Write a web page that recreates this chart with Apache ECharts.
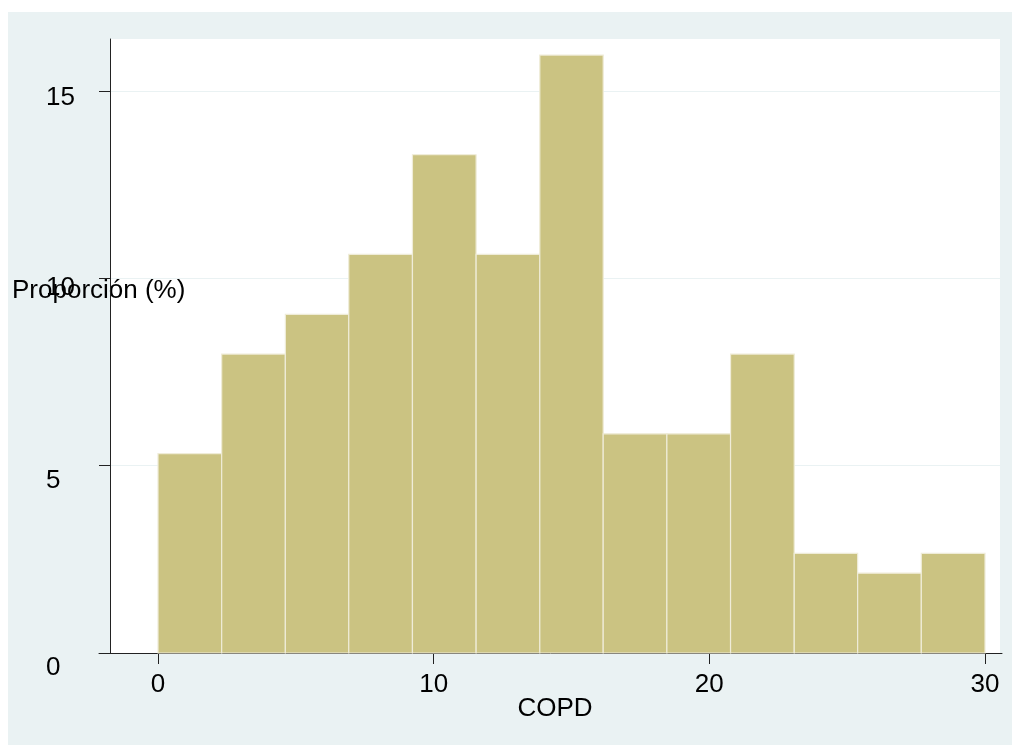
<!DOCTYPE html>
<html>
<head>
<meta charset="utf-8">
<title>COPD</title>
<script src="https://cdn.jsdelivr.net/npm/echarts@6.0.0/dist/echarts.min.js"></script>
<style>
    html, body { margin: 0; padding: 0; background: #fff; }
    #main { width: 1012px; height: 745px; }
</style>
</head>
<body>
<div id="main"></div>
<script>
// bordes de los intervalos del histograma (13 barras de 0 a 30)
var copdBins = [0, 2.31, 4.62, 6.92, 9.23, 11.54, 13.85, 16.15, 18.46, 20.77, 23.08, 25.38, 27.69, 30];
// proporcion (%) de cada barra
var proporcion = [5.32, 7.98, 9.04, 10.64, 13.30, 10.64, 15.96, 5.85, 5.85, 7.98, 2.66, 2.13, 2.66];
// marcas de los ejes
var xTicks = [0, 10, 20, 30];
var yTicks = [0, 5, 10, 15];

var fontFamily = "'Liberation Sans', Arial, sans-serif";
var axisColor = '#222';
var bgColor = '#eaf2f3';

// datos para la serie custom: [desde, hasta, valor]
var histData = [];
for (var i = 0; i < proporcion.length; i++) {
    histData.push([copdBins[i], copdBins[i + 1], proporcion[i]]);
}

// las etiquetas del eje y quedan un poco por debajo de su marca
var yLabelStyle = function(pad) {
    return {
        fontFamily: fontFamily,
        fontSize: 26,
        color: '#000',
        padding: [pad, 0, 0, 0]
    };
};

var chart = echarts.init(document.getElementById('main'));

var option = {
    backgroundColor: '#fff',
    animation: false,
    graphic: [{
        type: 'rect',
        z: -10,
        shape: { x: 8, y: 12, width: 1004, height: 733 },
        style: { fill: bgColor }
    }, {
        type: 'text',
        left: 12,
        top: 278,
        style: {
            text: 'Proporción (%)',
            font: '26px ' + fontFamily,
            fill: '#000'
        }
    }],
    grid: [
        // area blanca del grafico
        { left: 110, right: 12, top: 39, bottom: 92, show: true, backgroundColor: '#fff', borderWidth: 0 },
        // barras
        { left: 158, right: 27, top: 39, bottom: 92 },
        // linea del eje x
        { left: 99, right: 10, top: 39, bottom: 92 }
    ],
    xAxis: [{
        gridIndex: 0,
        type: 'value',
        min: 0,
        max: 1,
        axisLine: { show: false },
        axisTick: { show: false },
        axisLabel: { show: false },
        splitLine: { show: false },
        name: 'COPD',
        nameLocation: 'middle',
        nameGap: 56,
        nameTextStyle: {
            fontFamily: fontFamily,
            fontSize: 26,
            color: '#000',
            verticalAlign: 'middle'
        }
    }, {
        gridIndex: 1,
        type: 'value',
        min: 0,
        max: 30,
        axisLine: { show: false },
        axisTick: {
            show: true,
            inside: false,
            length: 11,
            customValues: xTicks,
            lineStyle: { color: axisColor, width: 1 }
        },
        axisLabel: {
            customValues: xTicks,
            margin: 32,
            verticalAlign: 'middle',
            fontFamily: fontFamily,
            fontSize: 26,
            color: '#000'
        },
        splitLine: { show: false }
    }, {
        gridIndex: 2,
        type: 'value',
        min: 0,
        max: 1,
        axisLine: { show: true, lineStyle: { color: axisColor, width: 1 } },
        axisTick: { show: false },
        axisLabel: { show: false },
        splitLine: { show: false }
    }],
    yAxis: [{
        gridIndex: 0,
        type: 'value',
        min: 0,
        max: 16.39,
        position: 'left',
        axisLine: { show: true, lineStyle: { color: axisColor, width: 1 } },
        axisTick: {
            show: true,
            inside: false,
            length: 11,
            customValues: yTicks,
            lineStyle: { color: axisColor, width: 1 }
        },
        axisLabel: {
            customValues: yTicks,
            align: 'left',
            margin: 64,
            verticalAlign: 'middle',
            formatter: function(v) {
                if (v >= 15) return '{a|' + v + '}';
                if (v >= 10) return '{b|' + v + '}';
                return '{c|' + v + '}';
            },
            rich: {
                a: yLabelStyle(14),
                b: yLabelStyle(18),
                c: yLabelStyle(30)
            }
        },
        splitLine: { show: true, lineStyle: { color: bgColor, width: 1 } }
    }, {
        gridIndex: 1,
        type: 'value',
        min: 0,
        max: 16.39,
        show: false
    }, {
        gridIndex: 2,
        type: 'value',
        min: 0,
        max: 1,
        show: false
    }],
    series: [{
        name: 'COPD',
        type: 'custom',
        xAxisIndex: 1,
        yAxisIndex: 1,
        data: histData,
        encode: { x: [0, 1], y: 2 },
        renderItem: function(params, api) {
            var p0 = api.coord([api.value(0), api.value(2)]);
            var p1 = api.coord([api.value(1), 0]);
            return {
                type: 'rect',
                shape: {
                    x: p0[0],
                    y: p0[1],
                    width: p1[0] - p0[0],
                    height: p1[1] - p0[1]
                },
                style: {
                    fill: '#cbc382',
                    stroke: '#efecd8',
                    lineWidth: 1.2
                }
            };
        }
    }]
};

chart.setOption(option);
</script>
</body>
</html>
